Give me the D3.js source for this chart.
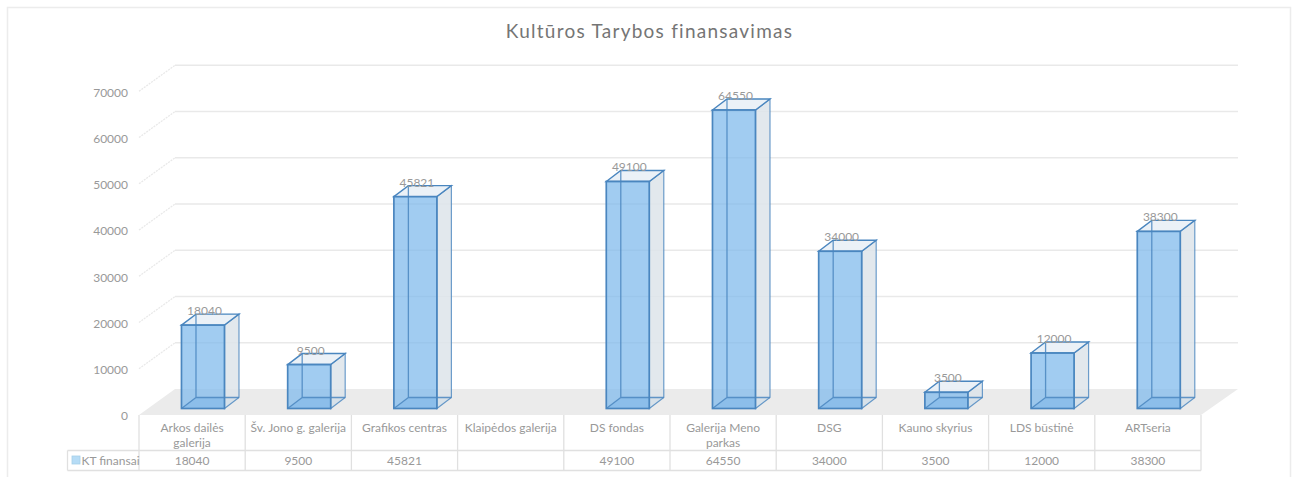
<!DOCTYPE html>
<html><head><meta charset="utf-8">
<script src="https://cdn.jsdelivr.net/npm/d3@7/dist/d3.min.js"></script>
<style>html,body{margin:0;padding:0;background:#fff;overflow:hidden}svg{display:block}text{font-family:Lato,"Open Sans",sans-serif;fill:#999999}</style>
</head><body><svg id="c" width="1292" height="477"></svg>
<script>
const title = "Kultūros Tarybos finansavimas";
const seriesName = "KT finansai";
const categories = ["Arkos dailės galerija","Šv. Jono g. galerija","Grafikos centras","Klaipėdos galerija","DS fondas","Galerija Meno parkas","DSG","Kauno skyrius","LDS būstinė","ARTseria"];
const values = [18040,9500,45821,null,49100,64550,34000,3500,12000,38300];
const yTicks = [0,10000,20000,30000,40000,50000,60000,70000];

const svg = d3.select("#c");
const x = d3.scaleBand().domain(categories).range([139,1201]);
const step = x.step();
const y = d3.scaleLinear().domain([0,70000]).range([408.5,84.8]);
const dx = 14.5, dy = -11;       // depth of bars
const wx = 36, wy = -26;         // depth of the floor
const frontShift = 6.5;          // axis plane sits below the bar plane
const axisY = v => y(v)+frontShift;
const backY = v => y(v)+frontShift+wy;

// frame
svg.append("path").attr("d","M7.5,477V7.5H1290.5V477").attr("fill","none").attr("stroke","#ececec").attr("stroke-width",1.5);

// title
svg.append("text").attr("x",649.5).attr("y",38).attr("text-anchor","middle")
  .style("font-size","19px").style("letter-spacing","1.25px").style("fill","#757575").text(title);

// floor
svg.append("path").attr("d",d3.line()([[139,axisY(0)],[139+wx,backY(0)],[1201+wx+1,backY(0)],[1201,axisY(0)]])+"Z").attr("fill","#ebebeb");

// gridlines
const gridTicks = yTicks.filter(d=>d>0);
svg.selectAll("line.back").data(gridTicks).join("line").attr("class","back")
  .attr("x1",139+wx).attr("x2",1201+wx+1).attr("y1",d=>backY(d)).attr("y2",d=>backY(d))
  .attr("stroke","#e9e9e9").attr("stroke-width",1.5);
svg.selectAll("line.side").data(gridTicks).join("line").attr("class","side")
  .attr("x1",139).attr("x2",139+wx).attr("y1",d=>axisY(d)).attr("y2",d=>backY(d))
  .attr("stroke","#e9e9e9").attr("stroke-width",1.3).attr("stroke-dasharray","2 1");

// y axis labels
const axis = d3.axisLeft(d3.scaleLinear().domain([0,70000]).range([axisY(0),axisY(70000)]))
  .tickValues(yTicks).tickSize(0).tickPadding(0).tickFormat(d3.format("d"));
const ag = svg.append("g").attr("transform","translate(128,1)").call(axis);
ag.select(".domain").remove();
ag.selectAll("text").style("font-size","12px").style("font-family",'Lato,"Open Sans",sans-serif').attr("fill","#999999");

// bars
const barX = c => x(c)+step*0.4, barW = step*0.405;
const stroke = "#4a86bf";
const bars = categories.map((c,i)=>({c,v:values[i]})).filter(d=>d.v!=null);
const g = svg.selectAll("g.bar").data(bars).join("g").attr("class","bar");
const poly = pts => d3.line()(pts)+"Z";
g.each(function(d){
  const s = d3.select(this), l=barX(d.c), r=l+barW, t=y(d.v), b=y(0);
  s.append("path").attr("d",poly([[l,b],[l+dx,b+dy],[r+dx,b+dy],[r,b]])).attr("fill","#6fa8dc").attr("fill-opacity",.45);
  s.append("path").attr("d",poly([[r,t],[r+dx,t+dy],[r+dx,b+dy],[r,b]])).attr("fill","#dde4ea").attr("fill-opacity",.85)
    .attr("stroke",stroke).attr("stroke-opacity",.8).attr("stroke-width",1.2);
  s.append("path").attr("d",poly([[l,t],[l+dx,t+dy],[r+dx,t+dy],[r,t]])).attr("fill","#e9f0f6").attr("fill-opacity",.9)
    .attr("stroke",stroke).attr("stroke-width",1.4);
  s.append("rect").attr("x",l).attr("y",t).attr("width",barW).attr("height",b-t).attr("fill","#7db9ec").attr("fill-opacity",.72);
  s.append("path").attr("d",`M${l+dx},${t+dy}V${b+dy}H${r+dx}M${l+dx},${b+dy}L${l},${b}`).attr("fill","none").attr("stroke",stroke).attr("stroke-opacity",.85).attr("stroke-width",1.3);
  s.append("rect").attr("x",l).attr("y",t).attr("width",barW).attr("height",b-t).attr("fill","none").attr("stroke",stroke).attr("stroke-width",1.7);
  s.append("text").attr("x",l+barW/2+1.5).attr("y",t-10).attr("text-anchor","middle").style("font-size","12px").text(d.v);
});

// data table
const tableTop = axisY(0), rowY = 450.5, tableBottom = 470.5;
const lineC = "#e0e0e0";
const edges = categories.map(c=>x(c)).concat([1201]);
svg.selectAll("line.v").data(edges).join("line").attr("class","v")
  .attr("x1",d=>d).attr("x2",d=>d).attr("y1",tableTop).attr("y2",tableBottom).attr("stroke",lineC).attr("stroke-width",1.3);
[rowY,tableBottom].forEach(v=>svg.append("line").attr("x1",67.5).attr("x2",1201).attr("y1",v).attr("y2",v).attr("stroke",lineC).attr("stroke-width",1.3));
svg.append("line").attr("x1",67.5).attr("x2",67.5).attr("y1",rowY).attr("y2",tableBottom).attr("stroke",lineC).attr("stroke-width",1.3);

// category labels, wrapped to the cell width
categories.forEach(c=>{
  const t = svg.append("text").attr("x",x(c)+step/2).attr("y",432).attr("text-anchor","middle").style("font-size","12px");
  const words = c.split(" "); let line=[];
  let ts = t.append("tspan").attr("x",x(c)+step/2).attr("dy",0);
  words.forEach(w=>{
    line.push(w); ts.text(line.join(" "));
    if(ts.node().getComputedTextLength()>100 && line.length>1){
      line.pop(); ts.text(line.join(" ")); line=[w];
      ts = t.append("tspan").attr("x",x(c)+step/2).attr("dy",15).text(w);
    }
  });
});
// value row
svg.selectAll("text.val").data(categories.map((c,i)=>({c,v:values[i]}))).join("text").attr("class","val")
  .attr("x",d=>x(d.c)+step/2).attr("y",464.5).attr("text-anchor","middle").style("font-size","12px").text(d=>d.v==null?"":d.v);

// legend key
svg.append("rect").attr("x",72).attr("y",456).attr("width",8).attr("height",8).attr("fill","#b6dcf6").attr("stroke","#a5cfe8").attr("stroke-width",.8);
svg.append("text").attr("x",81.5).attr("y",464.5).style("font-size","12px").text(seriesName);
</script></body></html>
